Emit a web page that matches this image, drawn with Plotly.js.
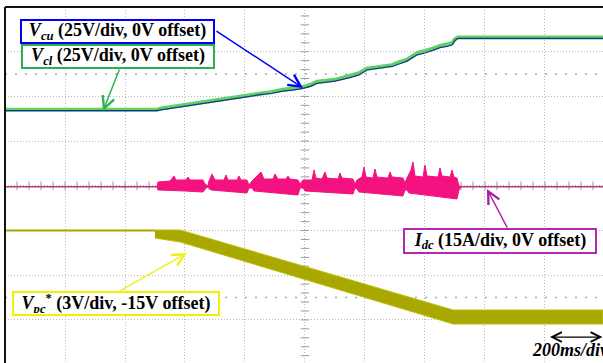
<!DOCTYPE html>
<html>
<head>
<meta charset="utf-8">
<script src="https://cdn.plot.ly/plotly-3.0.1.min.js"></script>
<style>html,body{margin:0;padding:0;background:#fff;}#chart{width:603px;height:363px;}</style>
</head>
<body>
<div id="chart"></div>
<script>
// Time axis in divisions (200 ms/div), vertical axis in screen divisions (0 = bottom, 8 = top)
const vcTime = [0, 2.53, 2.6, 2.75, 2.97, 3.1, 3.25, 3.45, 3.55, 3.8, 4.08, 4.25, 4.45, 4.63, 4.8, 4.97, 5.1, 5.2, 5.5, 5.75, 5.9, 6.03, 6.15, 6.3, 6.45, 6.58, 6.7, 6.87, 7.0, 7.13, 7.25, 7.37, 7.45, 7.5, 7.55, 9.967];
const vclDiv = [5.70, 5.70, 5.73, 5.76, 5.81, 5.83, 5.85, 5.90, 5.91, 5.96, 6.03, 6.07, 6.10, 6.15, 6.18, 6.21, 6.26, 6.33, 6.37, 6.45, 6.52, 6.62, 6.64, 6.67, 6.70, 6.77, 6.82, 6.97, 7.01, 7.07, 7.13, 7.16, 7.19, 7.28, 7.32, 7.32];
const vcuDiv = [5.68, 5.68, 5.70, 5.73, 5.78, 5.80, 5.82, 5.86, 5.88, 5.93, 6.00, 6.04, 6.07, 6.12, 6.14, 6.18, 6.23, 6.29, 6.34, 6.42, 6.48, 6.59, 6.61, 6.63, 6.67, 6.73, 6.79, 6.93, 6.97, 7.03, 7.09, 7.12, 7.15, 7.25, 7.30, 7.30];

const idcBaseTime = [0, 9.967];
const idcBaseDiv = [3.98, 3.98];
const idcUpTime = [2.533, 2.55, 2.75, 2.817, 2.85, 3.017, 3.05, 3.083, 3.3, 3.333, 3.383,
  3.4, 3.45, 3.5, 3.65, 3.683, 3.717, 3.867, 3.9, 3.933, 4.033, 4.067,
  4.117, 4.183, 4.267, 4.317, 4.467, 4.5, 4.55, 4.683, 4.717, 4.75, 4.883, 4.917,
  4.967, 5.117, 5.15, 5.183, 5.283, 5.333, 5.367, 5.55, 5.583, 5.617, 5.8, 5.833,
  5.867, 5.95, 5.983, 6.017, 6.133, 6.167, 6.2, 6.383, 6.417, 6.45, 6.633, 6.667,
  6.7, 6.767, 6.8, 6.833, 6.967, 7.0, 7.033, 7.217, 7.25, 7.283, 7.417, 7.45, 7.483, 7.533, 7.567];
const idcUpDiv = [3.973, 4.085, 4.107, 4.219, 4.130, 4.130, 4.197, 4.130, 4.130, 4.040, 3.996,
  4.107, 4.264, 4.130, 4.130, 4.242, 4.130, 4.130, 4.219, 4.130, 4.130, 4.018,
  4.107, 4.197, 4.309, 4.152, 4.152, 4.264, 4.152, 4.152, 4.219, 4.152, 4.130, 4.040,
  4.130, 4.130, 4.353, 4.174, 4.152, 4.309, 4.174, 4.152, 4.286, 4.174, 4.152, 4.040,
  4.130, 4.197, 4.421, 4.197, 4.174, 4.376, 4.197, 4.174, 4.309, 4.197, 4.174, 4.063,
  4.174, 4.353, 4.532, 4.219, 4.197, 4.465, 4.219, 4.197, 4.398, 4.219, 4.197, 4.353, 4.197, 4.174, 3.996];
const idcLowTime = [2.533, 2.55, 3.0, 3.3, 3.35, 3.383,
  3.4, 3.433, 3.583, 4.033, 4.067,
  4.117, 4.15, 4.333, 4.883, 4.917,
  4.967, 5.0, 5.25, 5.8, 5.833,
  5.867, 5.9, 6.117, 6.633, 6.667,
  6.7, 6.733, 6.917, 7.533, 7.567, 7.6];
const idcLowDiv = [3.973, 3.906, 3.884, 3.861, 3.951, 3.973,
  3.951, 3.906, 3.884, 3.839, 3.951,
  3.951, 3.884, 3.861, 3.794, 3.951,
  3.951, 3.884, 3.861, 3.817, 3.951,
  3.928, 3.861, 3.839, 3.772, 3.906,
  3.906, 3.839, 3.817, 3.705, 3.906, 3.973];

const vpcFlatTime = [0, 2.5];
const vpcFlatDiv = [3.0, 3.0];
const vpcTopTime = [2.5, 2.92, 7.47, 9.967];
const vpcTopDiv = [3.011, 3.011, 1.221, 1.221];
const vpcBotTime = [2.5, 2.92, 7.47, 9.967];
const vpcBotDiv = [2.832, 2.743, 0.908, 0.908];

// graticule tick marks on centre lines
const tickX = [], tickXY = [], tickY = [], tickYX = [];
for (let i = 0; i <= 50; i++) { tickX.push(i * 0.2); tickXY.push(4); }
for (let i = 0; i <= 40; i++) { tickY.push(i * 0.2); tickYX.push(5); }

const pink = 'rgb(244,18,128)';
const olive = 'rgb(168,168,0)';

const traces = [
  {x: tickX, y: tickXY, mode: 'markers', marker: {symbol: 'line-ns', size: 6, line: {color: '#9a9a9a', width: 1}}, hoverinfo: 'skip'},
  {x: tickYX, y: tickY, mode: 'markers', marker: {symbol: 'line-ew', size: 6, line: {color: '#9a9a9a', width: 1}}, hoverinfo: 'skip'},
  // Vcl / Vcu
  {x: vcTime, y: vclDiv, mode: 'lines', line: {color: 'rgb(95,210,100)', width: 4}},
  {x: vcTime, y: vcuDiv, mode: 'lines', line: {color: 'rgb(30,50,150)', width: 1.2}},
  // Idc
  {x: idcBaseTime, y: idcBaseDiv, mode: 'lines', line: {color: 'rgb(176,60,130)', width: 1.5}},
  {x: idcUpTime.concat(idcLowTime.slice().reverse()), y: idcUpDiv.concat(idcLowDiv.slice().reverse()),
   mode: 'lines', fill: 'toself', fillcolor: pink, line: {color: pink, width: 1}},
  // Vpc*
  {x: vpcFlatTime, y: vpcFlatDiv, mode: 'lines', line: {color: olive, width: 2}},
  {x: vpcTopTime.concat(vpcBotTime.slice().reverse()), y: vpcTopDiv.concat(vpcBotDiv.slice().reverse()),
   mode: 'lines', fill: 'toself', fillcolor: olive, line: {color: 'rgb(190,190,10)', width: 1}}
];

const serif = 'Liberation Serif, Times New Roman, serif';
function box(text, x, y, w, h, color) {
  return {text: text, x: x, y: y, xref: 'x', yref: 'y', showarrow: false, xanchor: 'center', yanchor: 'middle',
    width: w, height: h, align: 'center', valign: 'middle', bgcolor: '#fff', bordercolor: color, borderwidth: 2, borderpad: 1,
    font: {family: serif, size: 18, color: '#000'}};
}
function arrow(x, y, ax, ay, color) {
  return {text: '', x: x, y: y, ax: ax, ay: ay, xref: 'x', yref: 'y', axref: 'x', ayref: 'y', showarrow: true,
    arrowhead: 5, arrowsize: 1.6, arrowwidth: 1.5, arrowcolor: color};
}

const annotations = [
  arrow(4.967, 6.188, 3.5, 7.485, 'rgb(0,0,255)'),
  arrow(1.633, 5.673, 1.917, 6.635, 'rgb(40,180,80)'),
  arrow(8.033, 3.928, 8.383, 3.034, 'rgb(170,30,170)'),
  arrow(3.033, 2.497, 1.883, 1.624, 'rgb(240,240,30)'),
  box('<b><i>V</i><sub><i>cu</i></sub> (25V/div, 0V offset)</b>', 1.875, 7.452, 189, 19, 'rgb(0,0,255)'),
  box('<b><i>V</i><sub><i>cl</i></sub> (25V/div, 0V offset)</b>', 1.883, 6.893, 188, 19, 'rgb(40,175,80)'),
  box('<b><i>I</i><sub><i>dc</i></sub> (15A/div, 0V offset)</b>', 8.25, 2.765, 188, 20, 'rgb(180,40,180)'),
  box('<b><i>V</i><sub><i>pc</i></sub><sup>*</sup> (3V/div, -15V offset)</b>', 1.85, 1.367, 202, 19, 'rgb(240,240,0)'),
  {text: '', x: 9.083, y: 0.617, ax: 9.983, ay: 0.617, xref: 'x', yref: 'y', axref: 'x', ayref: 'y', showarrow: true,
   arrowhead: 5, startarrowhead: 5, arrowside: 'end+start', arrowsize: 1.6, startarrowsize: 1.6, arrowwidth: 1.2, arrowcolor: '#000'},
  {text: '<b><i>200ms/div</i></b>', x: 8.75, y: 0.33, xref: 'x', yref: 'y', showarrow: false, xanchor: 'left', yanchor: 'middle',
   font: {family: serif, size: 18, color: '#000'}}
];

const grid = {showgrid: true, gridcolor: '#b8b8b8', gridwidth: 1, griddash: '1px,2px', zeroline: false,
  showticklabels: false, ticks: '', showline: false, dtick: 1, tick0: 0, fixedrange: true};

const layout = {
  width: 603, height: 363,
  margin: {l: 5, r: 0, t: 7, b: 0, pad: 0},
  paper_bgcolor: '#fff', plot_bgcolor: '#fff',
  showlegend: false,
  xaxis: Object.assign({range: [0, 9.967]}, grid),
  yaxis: Object.assign({range: [0.036, 8]}, grid),
  shapes: [
    {type: 'line', xref: 'paper', yref: 'y', x0: 0, x1: 1, y0: 6.5, y1: 6.5, line: {color: '#a8a8a8', width: 1.5, dash: '2px,8px'}, layer: 'below'},
    {type: 'line', xref: 'paper', yref: 'y', x0: 0, x1: 1, y0: 1.5, y1: 1.5, line: {color: '#a8a8a8', width: 1.5, dash: '2px,8px'}, layer: 'below'},
    {type: 'line', xref: 'paper', yref: 'paper', x0: 0, x1: 1, y0: 1, y1: 1, line: {color: '#111', width: 2}},
    {type: 'line', xref: 'paper', yref: 'paper', x0: 0, x1: 0, y0: 0, y1: 1, line: {color: '#111', width: 2}}
  ],
  annotations: annotations
};

Plotly.newPlot('chart', traces, layout, {displayModeBar: false, staticPlot: true});
</script>
</body>
</html>
